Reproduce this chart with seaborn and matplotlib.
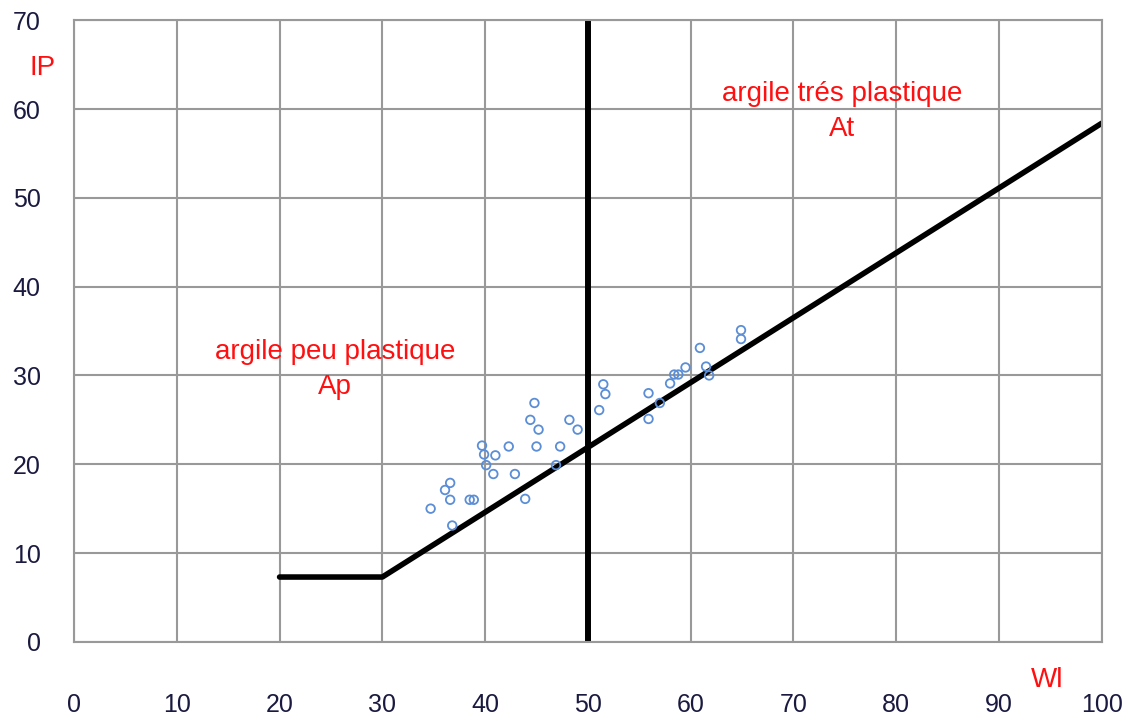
import matplotlib
matplotlib.use("Agg")
import matplotlib.pyplot as plt
import seaborn as sns
import pandas as pd

# Liquid limit (Wl) and plasticity index (Ip) of the tested samples
wl = [34.7, 36.1, 36.6, 36.6, 36.8, 38.5, 38.9, 39.7, 39.9, 40.1, 41.0, 40.8,
      42.3, 42.9, 43.9, 44.4, 44.8, 45.2, 45.0, 46.9, 47.3, 48.2, 49.0, 51.1,
      51.5, 51.7, 55.9, 55.9, 57.0, 58.0, 58.4, 58.8, 59.5, 60.9, 61.5, 61.8,
      64.9, 64.9]
ip = [15.0, 17.1, 17.9, 16.0, 13.1, 16.0, 16.0, 22.1, 21.1, 19.9, 21.0, 18.9,
      22.0, 18.9, 16.1, 25.0, 26.9, 23.9, 22.0, 19.9, 22.0, 25.0, 23.9, 26.1,
      29.0, 27.9, 28.0, 25.1, 26.9, 29.1, 30.1, 30.1, 30.9, 33.1, 31.0, 30.0,
      35.1, 34.1]

# Casagrande A-line (Ip = 0.73 (Wl - 20)) with its low-plasticity plateau
a_line_wl = [20, 30, 100]
a_line_ip = [7.3, 7.3, 58.4]
wl_limit = 50

x_ticks = list(range(0, 101, 10))
y_ticks = list(range(0, 71, 10))

samples = pd.DataFrame({"Wl": wl, "Ip": ip})
a_line = pd.DataFrame({"Wl": a_line_wl, "Ip": a_line_ip})

sns.set_style("white")
plt.rcParams["font.family"] = ["Liberation Sans", "DejaVu Sans"]

fig = plt.figure(figsize=(11.3, 7.22), dpi=100)
ax = fig.add_axes([0.0655, 0.111, 0.9095, 0.861])

grid_color = "#999999"
ax.set_xlim(0, 100)
ax.set_ylim(0, 70)
ax.set_xticks(x_ticks)
ax.set_yticks(y_ticks)
ax.grid(True, color=grid_color, linewidth=1.5)
ax.set_axisbelow(True)
for side in ax.spines.values():
    side.set_color(grid_color)
    side.set_linewidth(1.5)
ax.tick_params(axis="both", which="both", length=8, width=1.5, color=grid_color,
               labelsize=18, labelcolor="#1a1a40")
ax.tick_params(axis="x", pad=29)
ax.tick_params(axis="y", pad=16)

sns.lineplot(data=a_line, x="Wl", y="Ip", ax=ax, color="black", linewidth=4.0,
             sort=False, estimator=None)
ax.axvline(wl_limit, color="black", linewidth=4.3)

sns.scatterplot(data=samples, x="Wl", y="Ip", ax=ax, marker="o", s=38,
                facecolor="none", edgecolor="#5b8ed6", linewidth=1.3, zorder=4)

ax.set_xlabel("")
ax.set_ylabel("")

red = "#ff1010"
fs = 20
ax.text(-3.1, 64.6, "IP", color=red, fontsize=fs, ha="center", va="center",
        clip_on=False)
ax.text(94.7, -4.3, "Wl", color=red, fontsize=fs, ha="center", va="center",
        clip_on=False)
ax.text(74.7, 61.7, "argile trés plastique", color=red, fontsize=fs,
        ha="center", va="center")
ax.text(74.7, 57.8, "At", color=red, fontsize=fs, ha="center", va="center")
ax.text(25.4, 32.6, "argile peu plastique", color=red, fontsize=fs,
        ha="center", va="center")
ax.text(25.4, 28.7, "Ap", color=red, fontsize=fs, ha="center", va="center")

fig.savefig("out.png", dpi=100)
